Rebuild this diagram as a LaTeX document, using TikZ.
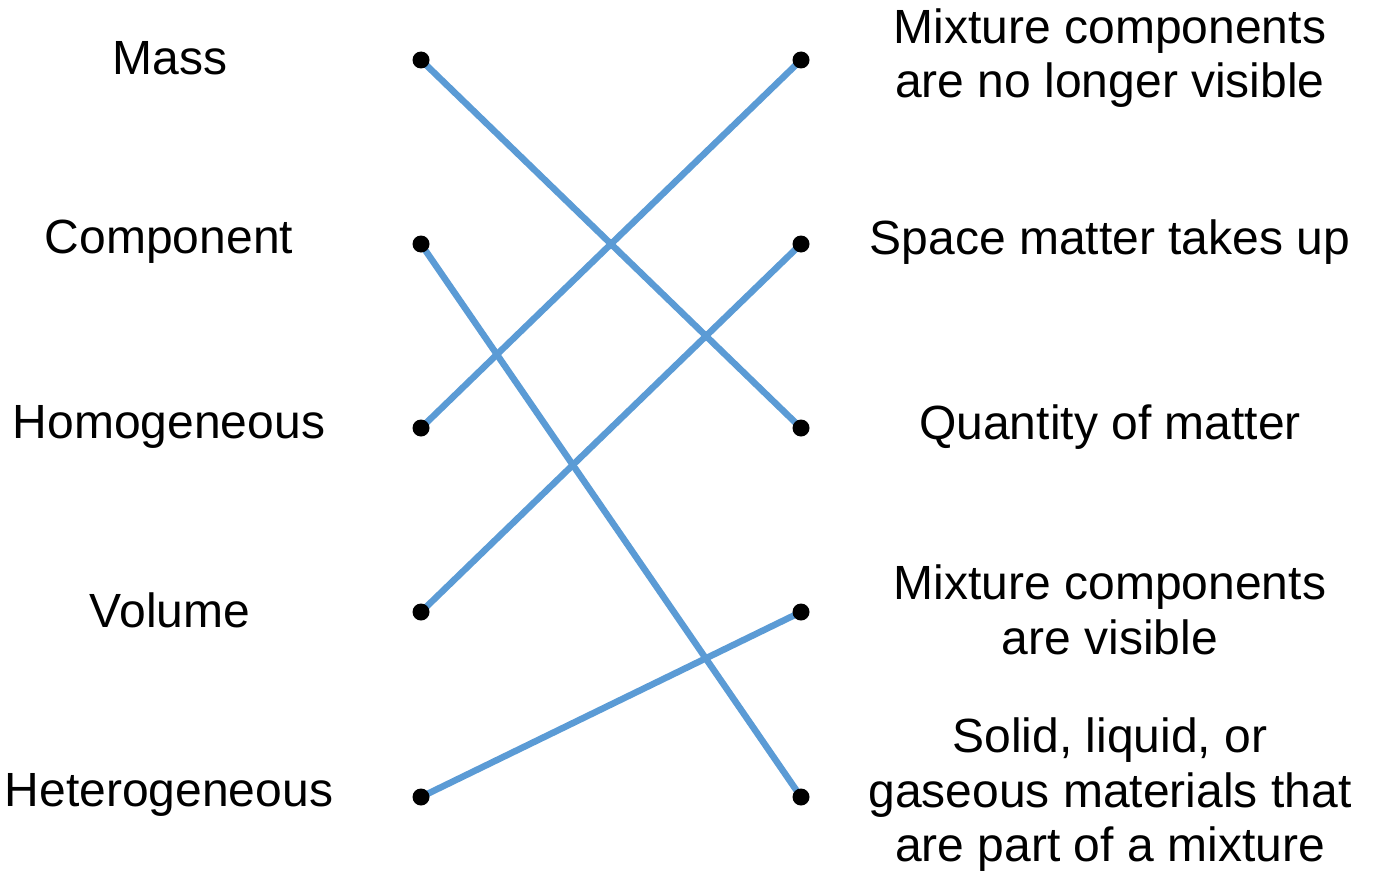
\documentclass[tikz,border=0pt]{standalone}
\usepackage{fontspec}
\setmainfont{Liberation Sans}
\definecolor{linkblue}{HTML}{5B9BD5}
\begin{document}
\begin{tikzpicture}[x=1pt,y=-1pt,
  dot/.style={circle,fill=black,inner sep=0pt,minimum size=17pt},
  lbl/.style={font=\fontsize{48}{54.5}\selectfont,align=center,inner sep=0pt},
  link/.style={draw=linkblue,line width=6.5pt}]
\useasboundingbox (0,0) rectangle (1373,875);
% left labels
\node[lbl] (lmass) at (170,58) {Mass};
\node[lbl] (lcomp) at (169,242) {Component};
\node[lbl] (lhomo) at (169,427) {Homogeneous};
\node[lbl] (lvol) at (170,610) {Volume};
\node[lbl] (lhet) at (169,795) {Heterogeneous};
% right labels
\node[lbl] (rmix) at (1110,58) {Mixture components\\are no longer visible};
\node[lbl] (rspace) at (1110,242) {Space matter takes up};
\node[lbl] (rquant) at (1110,427) {Quantity of matter};
\node[lbl] (rvis) at (1110,610) {Mixture components\\are visible};
\node[lbl] (rsolid) at (1110,795) {Solid, liquid, or\\gaseous materials that\\are part of a mixture};
% dots coordinates
\coordinate (a1) at (421,60);
\coordinate (a2) at (421,244);
\coordinate (a3) at (421,428);
\coordinate (a4) at (421,612);
\coordinate (a5) at (421,797);
\coordinate (b1) at (801,60);
\coordinate (b2) at (801,244);
\coordinate (b3) at (801,428);
\coordinate (b4) at (801,612);
\coordinate (b5) at (801,797);
% links
\draw[link] (a1) -- (b3);
\draw[link] (a2) -- (b5);
\draw[link] (a3) -- (b1);
\draw[link] (a4) -- (b2);
\draw[link] (a5) -- (b4);
% dots
\foreach \p in {a1,a2,a3,a4,a5,b1,b2,b3,b4,b5}
  \node[dot] at (\p) {};
\end{tikzpicture}
\end{document}
